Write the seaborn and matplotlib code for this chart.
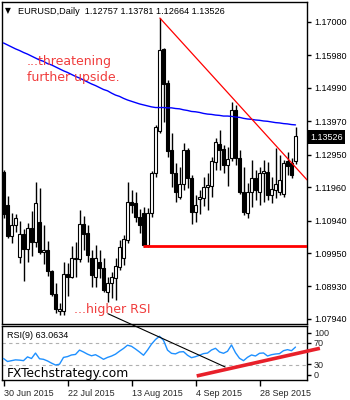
import numpy as np
import matplotlib
matplotlib.use("Agg")
import matplotlib.pyplot as plt
import seaborn as sns
from matplotlib.patches import ConnectionPatch

# ---------------- data ----------------
opens = [1.1243, 1.1142, 1.1047, 1.1081, 1.0983, 1.1053, 1.1008, 1.1072, 1.1029, 1.1090,
         1.0998, 1.1005, 1.0941, 1.0870, 1.0819, 1.0819, 1.0931, 1.0922, 1.0977, 1.0977,
         1.1084, 1.1056, 1.0980, 1.0922, 1.0968, 1.0950, 1.0877, 1.0904, 1.0919, 1.0953,
         1.0980, 1.1035, 1.1151, 1.1148, 1.1105, 1.1118, 1.1020, 1.1118, 1.1240, 1.1368,
         1.1618, 1.1514, 1.1310, 1.1240, 1.1166, 1.1206, 1.1310, 1.1224, 1.1121, 1.1160,
         1.1163, 1.1197, 1.1200, 1.1273, 1.1328, 1.1313, 1.1264, 1.1285, 1.1432, 1.1285,
         1.1182, 1.1118, 1.1182, 1.1224, 1.1182, 1.1240, 1.1243, 1.1172, 1.1188, 1.1182,
         1.1175, 1.1276, 1.1270, 1.12757]
highs = [1.1249, 1.1169, 1.1118, 1.1114, 1.1093, 1.1069, 1.1087, 1.1124, 1.1212, 1.1194,
         1.1081, 1.1032, 1.0944, 1.0904, 1.0843, 1.0968, 1.0965, 1.1017, 1.1029, 1.1127,
         1.1108, 1.1081, 1.1005, 1.1020, 1.1005, 1.0980, 1.0922, 1.0937, 1.0980, 1.1035,
         1.1050, 1.1212, 1.1188, 1.1182, 1.1130, 1.1136, 1.1133, 1.1246, 1.1386, 1.1712,
         1.1621, 1.1523, 1.1362, 1.1270, 1.1258, 1.1331, 1.1316, 1.1233, 1.1172, 1.1188,
         1.1227, 1.1240, 1.1288, 1.1346, 1.1371, 1.1325, 1.1319, 1.1456, 1.1447, 1.1310,
         1.1258, 1.1209, 1.1279, 1.1249, 1.1258, 1.1279, 1.1273, 1.1227, 1.1316, 1.1294,
         1.1279, 1.1303, 1.1285, 1.13781]
lows = [1.1102, 1.1041, 1.1026, 1.1060, 1.0965, 1.0910, 1.0968, 1.0986, 1.1014, 1.0992,
        1.0962, 1.0925, 1.0864, 1.0812, 1.0806, 1.0806, 1.0864, 1.0919, 1.0922, 1.0968,
        1.1005, 1.0968, 1.0892, 1.0892, 1.0919, 1.0877, 1.0846, 1.0858, 1.0852, 1.0944,
        1.0959, 1.1026, 1.1118, 1.1090, 1.1056, 1.1014, 1.1014, 1.1105, 1.1227, 1.1361,
        1.1395, 1.1288, 1.1197, 1.1151, 1.1160, 1.1188, 1.1194, 1.1084, 1.1090, 1.1114,
        1.1139, 1.1127, 1.1166, 1.1249, 1.1249, 1.1240, 1.1200, 1.1276, 1.1264, 1.1175,
        1.1111, 1.1102, 1.1136, 1.1157, 1.1142, 1.1151, 1.1157, 1.1148, 1.1163, 1.1172,
        1.1166, 1.1233, 1.1224, 1.12664]
closes = [1.1114, 1.1047, 1.1081, 1.1102, 1.1053, 1.1008, 1.1072, 1.1029, 1.1148, 1.0998,
          1.1005, 1.0941, 1.0870, 1.0825, 1.0825, 1.0931, 1.0922, 1.0980, 1.0980, 1.1084,
          1.1053, 1.0989, 1.0928, 1.0980, 1.0950, 1.0883, 1.0904, 1.0922, 1.0956, 1.1014,
          1.1038, 1.1151, 1.1142, 1.1105, 1.1081, 1.1020, 1.1118, 1.1240, 1.1380, 1.1615,
          1.1511, 1.1307, 1.1240, 1.1182, 1.1206, 1.1310, 1.1224, 1.1121, 1.1142, 1.1166,
          1.1197, 1.1203, 1.1276, 1.1334, 1.1310, 1.1264, 1.1282, 1.1432, 1.1285, 1.1182,
          1.1121, 1.1182, 1.1224, 1.1188, 1.1240, 1.1246, 1.1172, 1.1191, 1.1206, 1.1218,
          1.1270, 1.1261, 1.1233, 1.13526]
ma200 = [1.1636, 1.1630, 1.1624, 1.1618, 1.1613, 1.1607, 1.1602, 1.1596, 1.1590, 1.1584,
         1.1580, 1.1573, 1.1569, 1.1563, 1.1557, 1.1551, 1.1546, 1.1540, 1.1534, 1.1529,
         1.1523, 1.1517, 1.1511, 1.1506, 1.1500, 1.1494, 1.1490, 1.1483, 1.1477, 1.1473,
         1.1467, 1.1462, 1.1458, 1.1454, 1.1450, 1.1447, 1.1444, 1.1441, 1.1439, 1.1439,
         1.1439, 1.1438, 1.1438, 1.1436, 1.1435, 1.1432, 1.1430, 1.1427, 1.1426, 1.1424,
         1.1421, 1.1419, 1.1418, 1.1416, 1.1415, 1.1413, 1.1413, 1.1412, 1.1410, 1.1409,
         1.1406, 1.1404, 1.1403, 1.1401, 1.1400, 1.1398, 1.1397, 1.1395, 1.1393, 1.1392,
         1.1390, 1.1389, 1.1387, 1.1386]
rsi9 = [42.0, 36.5, 38.0, 39.5, 39.0, 38.0, 45.0, 42.0, 52.0, 41.5,
        40.5, 37.5, 33.5, 30.0, 31.5, 44.0, 45.5, 48.5, 49.5, 57.5,
        54.0, 50.0, 47.0, 49.0, 45.0, 40.5, 44.0, 46.5, 50.0, 55.5,
        60.5, 66.5, 64.5, 59.5, 54.0, 48.0, 57.5, 68.5, 77.0, 83.0,
        75.5, 57.5, 51.5, 50.5, 54.0, 54.6, 48.0, 43.5, 45.4, 48.0,
        51.0, 52.0, 57.7, 60.8, 54.0, 51.6, 55.3, 67.0, 52.7, 42.4,
        38.0, 44.2, 48.5, 46.6, 51.6, 52.2, 46.6, 49.0, 50.3, 51.0,
        56.4, 58.3, 56.4, 63.0634]

date_ticks = [0, 16, 32, 48, 64]
date_labels = ["30 Jun 2015", "22 Jul 2015", "13 Aug 2015", "4 Sep 2015", "28 Sep 2015"]
price_ticks = [1.17000, 1.15980, 1.14990, 1.13970, 1.12950, 1.11960,
               1.10940, 1.09950, 1.08930, 1.07940]
rsi_levels = [70, 30]
rsi_tick_pos = [89.6, 71.2, 31.3, 11.6]
rsi_tick_labels = ["100", "70", "30", "0"]

# drawn objects on the chart
resist_x, resist_y = [39.1, 75.9], [1.1712, 1.1218]
support_x0, support_y = 34.9, 1.1015
rsi_res_a, rsi_res_b = (26.1, 1.0810), (55.4, 26.4)
rsi_sup_x, rsi_sup_y = [48.3, 79.1], [9.8, 60.8]

# ---------------- figure ----------------
sns.set_style("white")
plt.rcParams['font.family'] = ['Liberation Sans', 'DejaVu Sans']

W, H = 350, 400
fig = plt.figure(figsize=(W / 100, H / 100), dpi=100)
fig.patch.set_facecolor("white")

def rect(l, t, r, b):
    return [l / W, 1 - b / H, (r - l) / W, (b - t) / H]

ax = fig.add_axes(rect(2, 2, 307, 323.5))
ax2 = fig.add_axes(rect(2, 326, 307, 379.5))

n = len(closes)
x = np.arange(n)
o = np.array(opens); c = np.array(closes)
hi = np.array(highs); lo = np.array(lows)
bottom = np.minimum(o, c)
height = np.maximum(np.abs(c - o), 0.00003)
face = ["white" if cc >= oo else "black" for oo, cc in zip(o, c)]

ax.vlines(x, lo, hi, color="black", lw=1, zorder=2)
ax.bar(x, height, bottom=bottom, width=0.6, color=face, edgecolor="black",
       linewidth=0.8, zorder=3)
sns.lineplot(x=x, y=ma200, ax=ax, color="#0000FF", lw=1, zorder=4, legend=False)
ax.plot(resist_x, resist_y, color="#FF0000", lw=0.9, zorder=5)
ax.hlines(support_y, support_x0, 76, color="#FF0000", lw=2, zorder=5)

xmin, xmax = -0.375, 75.875
ax.set_xlim(xmin, xmax)
ax.set_ylim(1.0780, 1.1761)
ax.set_xticks([])
ax.yaxis.tick_right()
ax.set_yticks(price_ticks)
ax.set_yticklabels([f"{v:.5f}" for v in price_ticks])
ax.tick_params(axis="y", right=True, length=3, width=1, pad=2, labelsize=6.5,
               direction="out", color="black", labelcolor="black")
ax.set_xlabel(""); ax.set_ylabel("")

# RSI panel
sns.lineplot(x=x, y=rsi9, ax=ax2, color="#1E90FF", lw=1, zorder=4, legend=False)
for lv in rsi_levels:
    ax2.axhline(lv, color="#B0B0B0", lw=0.8, ls=(0, (3, 3)), zorder=1)
ax2.plot(rsi_sup_x, rsi_sup_y, color="#E8202A", lw=2.6, clip_on=False,
         solid_capstyle="butt", zorder=6)
ax2.set_xlim(xmin, xmax)
ax2.set_ylim(3.3, 101.9)
ax2.yaxis.tick_right()
ax2.set_yticks(rsi_tick_pos)
ax2.set_yticklabels(rsi_tick_labels)
ax2.tick_params(axis="y", right=True, length=3, width=1, pad=2, labelsize=6.5,
                direction="out", color="black")
ax2.set_xticks(date_ticks)
ax2.set_xticklabels(date_labels)
ax2.tick_params(axis="x", bottom=True, length=4, width=1, pad=3, labelsize=6.5,
                direction="out", color="black")
for lab in ax2.get_xticklabels():
    lab.set_horizontalalignment("left")
ax2.set_xlabel(""); ax2.set_ylabel("")

for a in (ax, ax2):
    for s in a.spines.values():
        s.set_visible(True)
        s.set_color("black")
        s.set_linewidth(1)

con = ConnectionPatch(xyA=rsi_res_a, coordsA=ax.transData,
                      xyB=rsi_res_b, coordsB=ax2.transData,
                      color="black", lw=0.8, zorder=7)
fig.add_artist(con)

def ft(px, py, s, **kw):
    fig.text(px / W, 1 - py / H, s, va="center", ha="left", **kw)

ft(5, 11, "\u25BC", fontsize=5.5, family="DejaVu Sans", color="black")
ft(18, 11, "EURUSD,Daily  1.12757 1.13781 1.12664 1.13526", fontsize=6.6, color="black")
ft(27, 61, "...threatening", fontsize=9, family="DejaVu Sans", color="#F03C3C")
ft(27, 78, "further upside.", fontsize=9, family="DejaVu Sans", color="#F03C3C")
ft(74, 309, "...higher RSI", fontsize=9, family="DejaVu Sans", color="#F03C3C")
ft(7, 335, "RSI(9) 63.0634", fontsize=6.5, color="black")
ft(7, 373, "FXTechstrategy.com", fontsize=8.8, family="DejaVu Sans", color="black")
fig.text(310 / W, 1 - 137 / H, "1.13526", va="center", ha="left", fontsize=6.5,
         color="white", bbox=dict(facecolor="black", edgecolor="none", pad=1.8))

fig.savefig("out.png", dpi=100, facecolor="white")
